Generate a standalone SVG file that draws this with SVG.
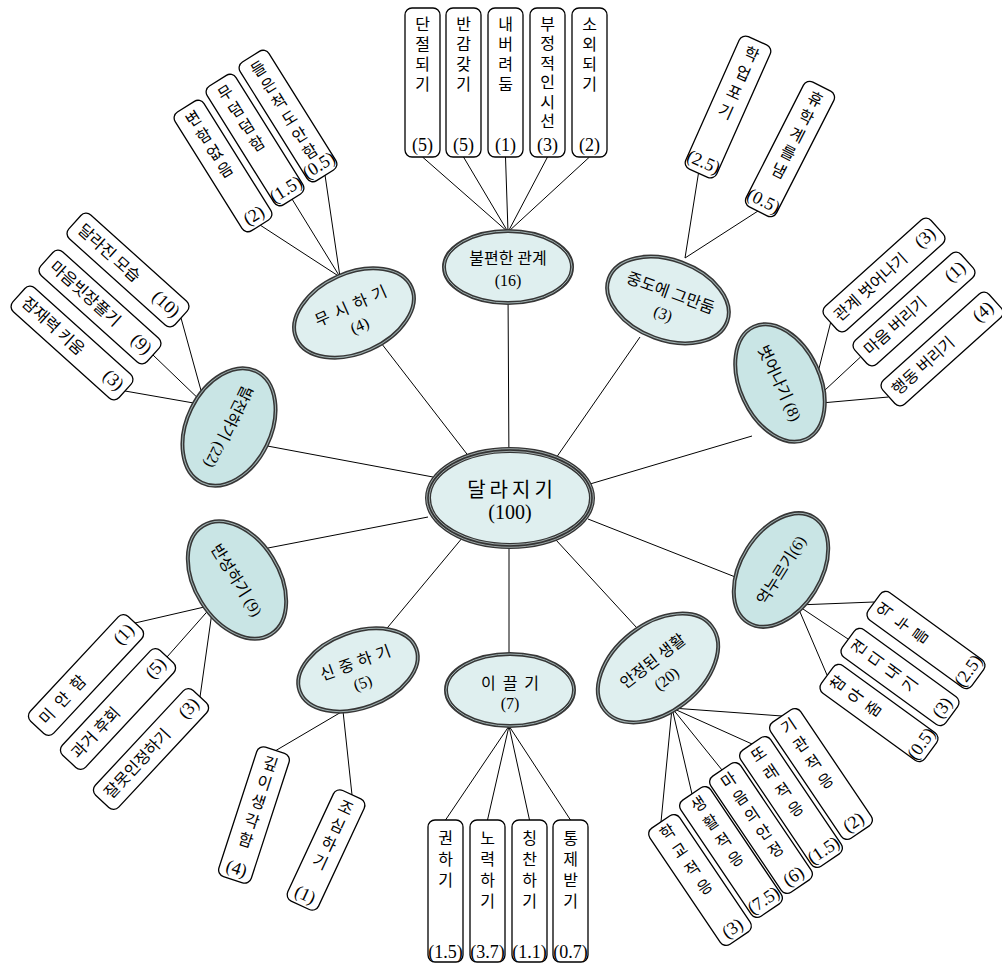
<svg xmlns="http://www.w3.org/2000/svg" width="1002" height="969" viewBox="0 0 1002 969">
<style>
.box{fill:#fff;stroke:#000;stroke-width:1.3}
.el{fill:#dfefef;stroke:#363636;stroke-width:4}
.ed{fill:#c9e5e5;stroke:#363636;stroke-width:4}
.ei{fill:none;stroke:#9fb0b0;stroke-width:1}
#connectors line{stroke:#000;stroke-width:1}
text{font-family:"Liberation Serif","Noto Sans CJK KR",serif;fill:#000}
.t{font-size:16px;text-anchor:middle}
.n{font-size:18px}
.h{font-size:16px}
.l{font-size:16px;text-anchor:middle}
.e{text-anchor:end}
</style>
<g id="connectors">
<line x1="509" y1="470" x2="508" y2="290"/>
<line x1="470" y1="458" x2="378" y2="339"/>
<line x1="556" y1="458" x2="640" y2="337"/>
<line x1="590" y1="484" x2="752" y2="436"/>
<line x1="588" y1="519" x2="748" y2="582"/>
<line x1="556" y1="540" x2="637" y2="628"/>
<line x1="509" y1="530" x2="509" y2="660"/>
<line x1="463" y1="537" x2="383" y2="633"/>
<line x1="428" y1="517" x2="268" y2="548"/>
<line x1="433" y1="477" x2="262" y2="445"/>
<line x1="422.5" y1="157" x2="508" y2="232"/>
<line x1="463.5" y1="157" x2="508" y2="232"/>
<line x1="505.5" y1="157" x2="508" y2="232"/>
<line x1="547.5" y1="157" x2="508" y2="232"/>
<line x1="589.5" y1="157" x2="508" y2="232"/>
<line x1="260" y1="225" x2="340" y2="277"/>
<line x1="292" y1="199" x2="340" y2="277"/>
<line x1="325" y1="175" x2="340" y2="277"/>
<line x1="698.5" y1="173" x2="685" y2="258"/>
<line x1="758" y1="211" x2="685" y2="258"/>
<line x1="830.5" y1="323" x2="810" y2="404"/>
<line x1="860.5" y1="357" x2="810" y2="404"/>
<line x1="888.5" y1="397" x2="810" y2="404"/>
<line x1="181" y1="318" x2="205" y2="405"/>
<line x1="153" y1="355" x2="205" y2="405"/>
<line x1="125" y1="391" x2="205" y2="405"/>
<line x1="135" y1="623" x2="213" y2="605"/>
<line x1="167" y1="657" x2="213" y2="605"/>
<line x1="200" y1="697" x2="213" y2="605"/>
<line x1="874" y1="602" x2="797" y2="605"/>
<line x1="848" y1="639" x2="797" y2="605"/>
<line x1="827" y1="675" x2="797" y2="605"/>
<line x1="661" y1="822" x2="672" y2="708"/>
<line x1="692" y1="794" x2="672" y2="708"/>
<line x1="722" y1="770" x2="672" y2="708"/>
<line x1="752" y1="744" x2="672" y2="708"/>
<line x1="782" y1="716" x2="672" y2="708"/>
<line x1="445.5" y1="820" x2="509" y2="726"/>
<line x1="487.5" y1="820" x2="509" y2="726"/>
<line x1="529.5" y1="820" x2="509" y2="726"/>
<line x1="570.5" y1="820" x2="509" y2="726"/>
<line x1="275" y1="751" x2="343" y2="711"/>
<line x1="352" y1="795" x2="343" y2="711"/>
</g>

<!-- center -->
<g id="n-center" transform="translate(510,498)">
<ellipse rx="82" ry="48" fill="#dfefef" stroke="#333" stroke-width="6"/>
<ellipse rx="83.3" ry="49.3" fill="none" stroke="#b8c4c4" stroke-width="0.8"/>
<ellipse rx="80.7" ry="46.7" fill="none" stroke="#b8c4c4" stroke-width="0.8"/>
<text class="l" x="2" y="-1" style="font-size:20px;letter-spacing:4px">달라지기</text>
<text class="l" x="0" y="21" style="font-size:20px">(100)</text>
</g>

<!-- 불편한 관계 -->
<g id="n-uncomfortable" transform="translate(508,267)">
<ellipse class="el" rx="64" ry="36"/><ellipse class="ei" rx="64" ry="36"/>
<text class="l" y="-3">불편한 관계</text>
<text class="l n" y="19">(16)</text>
</g>
<g id="b-u1" transform="translate(422.5,82.5)"><rect class="box" x="-17.5" y="-74.5" width="35" height="149" rx="7"/>
<text class="t"><tspan x="0" y="-53">단</tspan><tspan x="0" dy="20">절</tspan><tspan x="0" dy="20">되</tspan><tspan x="0" dy="20">기</tspan><tspan class="n" x="0" y="68">(5)</tspan></text></g>
<g id="b-u2" transform="translate(463.5,82.5)"><rect class="box" x="-17.5" y="-74.5" width="35" height="149" rx="7"/>
<text class="t"><tspan x="0" y="-53">반</tspan><tspan x="0" dy="20">감</tspan><tspan x="0" dy="20">갖</tspan><tspan x="0" dy="20">기</tspan><tspan class="n" x="0" y="68">(5)</tspan></text></g>
<g id="b-u3" transform="translate(505.5,82.5)"><rect class="box" x="-17.5" y="-74.5" width="35" height="149" rx="7"/>
<text class="t"><tspan x="0" y="-53">내</tspan><tspan x="0" dy="20">버</tspan><tspan x="0" dy="20">려</tspan><tspan x="0" dy="20">둠</tspan><tspan class="n" x="0" y="68">(1)</tspan></text></g>
<g id="b-u4" transform="translate(547.5,82.5)"><rect class="box" x="-17.5" y="-74.5" width="35" height="149" rx="7"/>
<text class="t"><tspan x="0" y="-53">부</tspan><tspan x="0" dy="19.5">정</tspan><tspan x="0" dy="19.5">적</tspan><tspan x="0" dy="19.5">인</tspan><tspan x="0" dy="19.5">시</tspan><tspan x="0" dy="19.5">선</tspan><tspan class="n" x="0" y="68">(3)</tspan></text></g>
<g id="b-u5" transform="translate(589.5,82.5)"><rect class="box" x="-17.5" y="-74.5" width="35" height="149" rx="7"/>
<text class="t"><tspan x="0" y="-53">소</tspan><tspan x="0" dy="20">외</tspan><tspan x="0" dy="20">되</tspan><tspan x="0" dy="20">기</tspan><tspan class="n" x="0" y="68">(2)</tspan></text></g>

<!-- 무시하기 -->
<g id="n-ignore" transform="translate(354,313) rotate(-24)">
<ellipse class="el" rx="63" ry="40"/><ellipse class="ei" rx="63" ry="40"/>
<text class="l" x="3" y="-2" style="letter-spacing:6px">무시하기</text>
<text class="l n" y="19">(4)</text>
</g>
<g id="b-i1" transform="translate(223,166) rotate(-32)"><rect class="box" x="-17" y="-70" width="34" height="140" rx="7"/>
<text class="t"><tspan x="0" y="-50">변</tspan><tspan x="0" dy="20">함</tspan><tspan x="0" dy="20">없</tspan><tspan x="0" dy="20">음</tspan><tspan class="n" x="0" y="64">(2)</tspan></text></g>
<g id="b-i2" transform="translate(255,140) rotate(-32)"><rect class="box" x="-17" y="-70" width="34" height="140" rx="7"/>
<text class="t"><tspan x="0" y="-50">무</tspan><tspan x="0" dy="20">덤</tspan><tspan x="0" dy="20">덤</tspan><tspan x="0" dy="20">함</tspan><tspan class="n" x="0" y="64">(1.5)</tspan></text></g>
<g id="b-i3" transform="translate(288,116) rotate(-32)"><rect class="box" x="-17" y="-70" width="34" height="140" rx="7"/>
<text class="t"><tspan x="0" y="-50">들</tspan><tspan x="0" dy="19.5">은</tspan><tspan x="0" dy="19.5">척</tspan><tspan x="0" dy="19.5">도</tspan><tspan x="0" dy="19.5">안</tspan><tspan x="0" dy="19.5">함</tspan><tspan class="n" x="0" y="64">(0.5)</tspan></text></g>

<!-- 중도에 그만둠 -->
<g id="n-quit" transform="translate(668,300) rotate(20)">
<ellipse class="el" rx="63" ry="40"/><ellipse class="ei" rx="63" ry="40"/>
<text class="l" y="-2">중도에 그만둠</text>
<text class="l n" y="20">(3)</text>
</g>
<g id="b-q1" transform="translate(728,107) rotate(24)"><rect class="box" x="-17" y="-72.5" width="34" height="145" rx="7"/>
<text class="t"><tspan x="0" y="-52">학</tspan><tspan x="0" dy="21">업</tspan><tspan x="0" dy="21">포</tspan><tspan x="0" dy="21">기</tspan><tspan class="n" x="0" y="66">(2.5)</tspan></text></g>
<g id="b-q2" transform="translate(790,149) rotate(27)"><rect class="box" x="-17" y="-70" width="34" height="140" rx="7"/>
<text class="t"><tspan x="0" y="-50">휴</tspan><tspan x="0" dy="20">학</tspan><tspan x="0" dy="20">계</tspan><tspan x="0" dy="20">를</tspan><tspan x="0" dy="20">냄</tspan><tspan class="n" x="0" y="64">(0.5)</tspan></text></g>

<!-- 벗어나기 -->
<g id="n-escape" transform="translate(780,383) rotate(65)">
<ellipse class="ed" rx="62" ry="40"/><ellipse class="ei" rx="62" ry="40"/>
<text class="l" y="6">벗어나기 (8)</text>
</g>
<g id="b-e1" transform="translate(884,275) rotate(-42)"><rect class="box" x="-71.5" y="-16" width="143" height="32" rx="7"/>
<text class="h" y="5.5"><tspan x="-64">관계 벗어나기 </tspan><tspan class="e n" x="66">(3)</tspan></text></g>
<g id="b-e2" transform="translate(914,309) rotate(-42)"><rect class="box" x="-71.5" y="-16" width="143" height="32" rx="7"/>
<text class="h" y="5.5"><tspan x="-64">마음 버리기 </tspan><tspan class="e n" x="66">(1)</tspan></text></g>
<g id="b-e3" transform="translate(942,349) rotate(-42)"><rect class="box" x="-71.5" y="-16" width="143" height="32" rx="7"/>
<text class="h" y="5.5"><tspan x="-64">행동 버리기 </tspan><tspan class="e n" x="66">(4)</tspan></text></g>

<!-- 발전하기 -->
<g id="n-develop" transform="translate(229,427) rotate(-64)">
<ellipse class="ed" rx="62" ry="42"/><ellipse class="ei" rx="62" ry="42"/>
<text class="l" y="6" transform="rotate(180)">발전하기 (22)</text>
</g>
<g id="b-d1" transform="translate(128,270) rotate(42)"><rect class="box" x="-71.5" y="-16" width="143" height="32" rx="7"/>
<text class="h" y="5.5"><tspan x="-64">달라진 모습 </tspan><tspan class="e n" x="66">(10)</tspan></text></g>
<g id="b-d2" transform="translate(100,307) rotate(42)"><rect class="box" x="-71.5" y="-16" width="143" height="32" rx="7"/>
<text class="h" y="5.5"><tspan x="-64">마음빗장풀기 </tspan><tspan class="e n" x="66">(9)</tspan></text></g>
<g id="b-d3" transform="translate(72,343) rotate(42)"><rect class="box" x="-71.5" y="-16" width="143" height="32" rx="7"/>
<text class="h" y="5.5"><tspan x="-64">잠재력 키움 </tspan><tspan class="e n" x="66">(3)</tspan></text></g>

<!-- 반성하기 -->
<g id="n-reflect" transform="translate(237,580) rotate(58)">
<ellipse class="ed" rx="64" ry="42"/><ellipse class="ei" rx="64" ry="42"/>
<text class="l" y="6">반성하기 (9)</text>
</g>
<g id="b-r1" transform="translate(86,675) rotate(-47)"><rect class="box" x="-71.5" y="-16" width="143" height="32" rx="7"/>
<text class="h" y="5.5"><tspan x="-64" style="letter-spacing:8px">미안함 </tspan><tspan class="e n" x="66">(1)</tspan></text></g>
<g id="b-r2" transform="translate(118,709) rotate(-47)"><rect class="box" x="-71.5" y="-16" width="143" height="32" rx="7"/>
<text class="h" y="5.5"><tspan x="-64">과거 후회 </tspan><tspan class="e n" x="66">(5)</tspan></text></g>
<g id="b-r3" transform="translate(151,749) rotate(-47)"><rect class="box" x="-71.5" y="-16" width="143" height="32" rx="7"/>
<text class="h" y="5.5"><tspan x="-64">잘못인정하기 </tspan><tspan class="e n" x="66">(3)</tspan></text></g>

<!-- 억누르기 -->
<g id="n-suppress" transform="translate(781,570) rotate(-58)">
<ellipse class="ed" rx="62" ry="40"/><ellipse class="ei" rx="62" ry="40"/>
<text class="l" y="6">억누르기(6)</text>
</g>
<g id="b-s1" transform="translate(926,640) rotate(-54)"><rect class="box" x="-17" y="-64" width="34" height="128" rx="7"/>
<text class="t"><tspan x="0" y="-45">억</tspan><tspan x="0" dy="22">누</tspan><tspan x="0" dy="22">름</tspan><tspan class="n" x="0" y="58">(2.5)</tspan></text></g>
<g id="b-s2" transform="translate(900,677) rotate(-54)"><rect class="box" x="-17" y="-64" width="34" height="128" rx="7"/>
<text class="t"><tspan x="0" y="-45">견</tspan><tspan x="0" dy="21">디</tspan><tspan x="0" dy="21">내</tspan><tspan x="0" dy="21">기</tspan><tspan class="n" x="0" y="58">(3)</tspan></text></g>
<g id="b-s3" transform="translate(879,713) rotate(-54)"><rect class="box" x="-17" y="-64" width="34" height="128" rx="7"/>
<text class="t"><tspan x="0" y="-45">참</tspan><tspan x="0" dy="22">아</tspan><tspan x="0" dy="22">줌</tspan><tspan class="n" x="0" y="58">(0.5)</tspan></text></g>

<!-- 안정된 생활 -->
<g id="n-stable" transform="translate(658,668) rotate(-38)">
<ellipse class="el" rx="68" ry="44"/><ellipse class="ei" rx="68" ry="44"/>
<text class="l" y="-3">안정된 생활</text>
<text class="l n" y="19">(20)</text>
</g>
<g id="b-a1" transform="translate(700,880) rotate(-34)"><rect class="box" x="-18" y="-70" width="36" height="140" rx="7"/>
<text class="t"><tspan x="0" y="-52">학</tspan><tspan x="0" dy="22">교</tspan><tspan x="0" dy="22">적</tspan><tspan x="0" dy="22">응</tspan><tspan class="n" x="0" y="64">(3)</tspan></text></g>
<g id="b-a2" transform="translate(731,852) rotate(-34)"><rect class="box" x="-18" y="-70" width="36" height="140" rx="7"/>
<text class="t"><tspan x="0" y="-52">생</tspan><tspan x="0" dy="22">활</tspan><tspan x="0" dy="22">적</tspan><tspan x="0" dy="22">응</tspan><tspan class="n" x="0" y="64">(7.5)</tspan></text></g>
<g id="b-a3" transform="translate(761,828) rotate(-34)"><rect class="box" x="-18" y="-70" width="36" height="140" rx="7"/>
<text class="t"><tspan x="0" y="-52">마</tspan><tspan x="0" dy="21">음</tspan><tspan x="0" dy="21">의</tspan><tspan x="0" dy="21">안</tspan><tspan x="0" dy="21">정</tspan><tspan class="n" x="0" y="64">(6)</tspan></text></g>
<g id="b-a4" transform="translate(791,802) rotate(-34)"><rect class="box" x="-18" y="-70" width="36" height="140" rx="7"/>
<text class="t"><tspan x="0" y="-52">또</tspan><tspan x="0" dy="22">래</tspan><tspan x="0" dy="22">적</tspan><tspan x="0" dy="22">응</tspan><tspan class="n" x="0" y="64">(1.5)</tspan></text></g>
<g id="b-a5" transform="translate(821,774) rotate(-34)"><rect class="box" x="-18" y="-70" width="36" height="140" rx="7"/>
<text class="t"><tspan x="0" y="-52">기</tspan><tspan x="0" dy="22">관</tspan><tspan x="0" dy="22">적</tspan><tspan x="0" dy="22">응</tspan><tspan class="n" x="0" y="64">(2)</tspan></text></g>

<!-- 이끌기 -->
<g id="n-lead" transform="translate(510,690)">
<ellipse class="el" rx="64" ry="36"/><ellipse class="ei" rx="64" ry="36"/>
<text class="l" x="3.5" y="-1" style="letter-spacing:7px">이끌기</text>
<text class="l n" y="19">(7)</text>
</g>
<g id="b-l1" transform="translate(445.5,891)"><rect class="box" x="-17.5" y="-71" width="35" height="142" rx="7"/>
<text class="t"><tspan x="0" y="-47">권</tspan><tspan x="0" dy="21">하</tspan><tspan x="0" dy="21">기</tspan><tspan class="n" x="0" y="67">(1.5)</tspan></text></g>
<g id="b-l2" transform="translate(487.5,891)"><rect class="box" x="-17.5" y="-71" width="35" height="142" rx="7"/>
<text class="t"><tspan x="0" y="-47">노</tspan><tspan x="0" dy="21">력</tspan><tspan x="0" dy="21">하</tspan><tspan x="0" dy="21">기</tspan><tspan class="n" x="0" y="67">(3.7)</tspan></text></g>
<g id="b-l3" transform="translate(529.5,891)"><rect class="box" x="-17.5" y="-71" width="35" height="142" rx="7"/>
<text class="t"><tspan x="0" y="-47">칭</tspan><tspan x="0" dy="21">찬</tspan><tspan x="0" dy="21">하</tspan><tspan x="0" dy="21">기</tspan><tspan class="n" x="0" y="67">(1.1)</tspan></text></g>
<g id="b-l4" transform="translate(570.5,891)"><rect class="box" x="-17.5" y="-71" width="35" height="142" rx="7"/>
<text class="t"><tspan x="0" y="-47">통</tspan><tspan x="0" dy="21">제</tspan><tspan x="0" dy="21">받</tspan><tspan x="0" dy="21">기</tspan><tspan class="n" x="0" y="67">(0.7)</tspan></text></g>

<!-- 신중하기 -->
<g id="n-careful" transform="translate(358,670) rotate(-20)">
<ellipse class="el" rx="62" ry="38"/><ellipse class="ei" rx="62" ry="38"/>
<text class="l" x="2.5" y="-2" style="letter-spacing:5px">신중하기</text>
<text class="l n" y="19">(5)</text>
</g>
<g id="b-c1" transform="translate(254,815) rotate(18)"><rect class="box" x="-17" y="-68" width="34" height="136" rx="7"/>
<text class="t"><tspan x="0" y="-48">깊</tspan><tspan x="0" dy="20">이</tspan><tspan x="0" dy="20">생</tspan><tspan x="0" dy="20">각</tspan><tspan x="0" dy="20">함</tspan><tspan class="n" x="0" y="62">(4)</tspan></text></g>
<g id="b-c2" transform="translate(326,850) rotate(25)"><rect class="box" x="-17" y="-61" width="34" height="122" rx="7"/>
<text class="t"><tspan x="0" y="-41">조</tspan><tspan x="0" dy="20">심</tspan><tspan x="0" dy="20">하</tspan><tspan x="0" dy="20">기</tspan><tspan class="n" x="0" y="55">(1)</tspan></text></g>
</svg>
